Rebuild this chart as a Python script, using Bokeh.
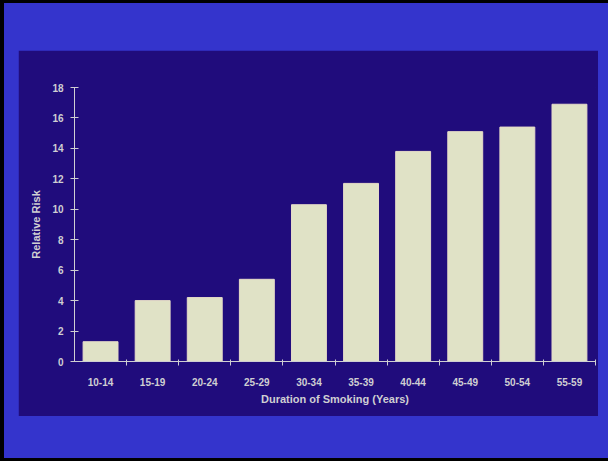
from bokeh.plotting import figure
from bokeh.models import FixedTicker, Range1d
from bokeh.layouts import column
from bokeh.embed import file_html
from bokeh.resources import INLINE

# Relative risk of lung cancer by duration of smoking
durations = ["10-14", "15-19", "20-24", "25-29", "30-34",
             "35-39", "40-44", "45-49", "50-54", "55-59"]
relative_risk = [1.3, 4.0, 4.2, 5.4, 10.3, 11.7, 13.8, 15.1, 15.4, 16.9]
risk_ticks = [0, 2, 4, 6, 8, 10, 12, 14, 16, 18]

SLIDE_BLUE = "#3434cc"
PANEL_NAVY = "#200c7c"
BAR_CREAM = "#e0e2c6"
TEXT_GREY = "#cfcfd2"
FONT = "Liberation Sans"

n = len(durations)
centers = [i + 0.5 for i in range(n)]
boundaries = [i + 1 for i in range(n)]

p = figure(width=580, height=366, output_backend="svg", toolbar_location=None,
           x_range=Range1d(0, n), y_range=Range1d(0, risk_ticks[-1]),
           min_border_left=56, min_border_right=3,
           min_border_top=37, min_border_bottom=55)
p.margin = (50, 10, 45, 18)

p.border_fill_color = PANEL_NAVY
p.background_fill_color = PANEL_NAVY
p.outline_line_color = PANEL_NAVY
p.grid.visible = False

p.vbar(x=centers, top=relative_risk, width=0.67,
       fill_color=BAR_CREAM, line_color="#e6dcc8", line_width=1)

xa = p.xaxis[0]
xa.ticker = FixedTicker(ticks=centers, minor_ticks=boundaries)
xa.major_label_overrides = {c: d for c, d in zip(centers, durations)}
xa.major_tick_line_color = None
xa.major_tick_in = 0
xa.major_tick_out = 0
xa.minor_tick_line_color = TEXT_GREY
xa.minor_tick_in = 2
xa.minor_tick_out = 4
xa.major_label_standoff = 12
xa.axis_label = "Duration of Smoking (Years)"
xa.axis_label_standoff = 4

ya = p.yaxis[0]
ya.ticker = FixedTicker(ticks=risk_ticks)
ya.minor_tick_line_color = None
ya.major_tick_line_color = TEXT_GREY
ya.major_tick_in = 4
ya.major_tick_out = 4
ya.major_label_standoff = 7
ya.axis_label = "Relative Risk"
ya.axis_label_standoff = 7

for ax in (xa, ya):
    ax.axis_line_color = TEXT_GREY
    ax.major_label_text_color = TEXT_GREY
    ax.major_label_text_font = FONT
    ax.major_label_text_font_style = "bold"
    ax.major_label_text_font_size = "10px"
    ax.axis_label_text_color = TEXT_GREY
    ax.axis_label_text_font = FONT
    ax.axis_label_text_font_style = "bold"
    ax.axis_label_text_font_size = "11px"

# blue slide with a black frame edge on the top, left and bottom;
# the slide blue also runs on past the right edge
page = column(p, styles={
    "background-color": SLIDE_BLUE,
    "box-shadow": ("inset 4px 3px 0 0 black, inset 0 -3px 0 0 black, "
                   "12px 0 0 0 " + SLIDE_BLUE),
})

open("out.html", "w").write(file_html(page, INLINE))
